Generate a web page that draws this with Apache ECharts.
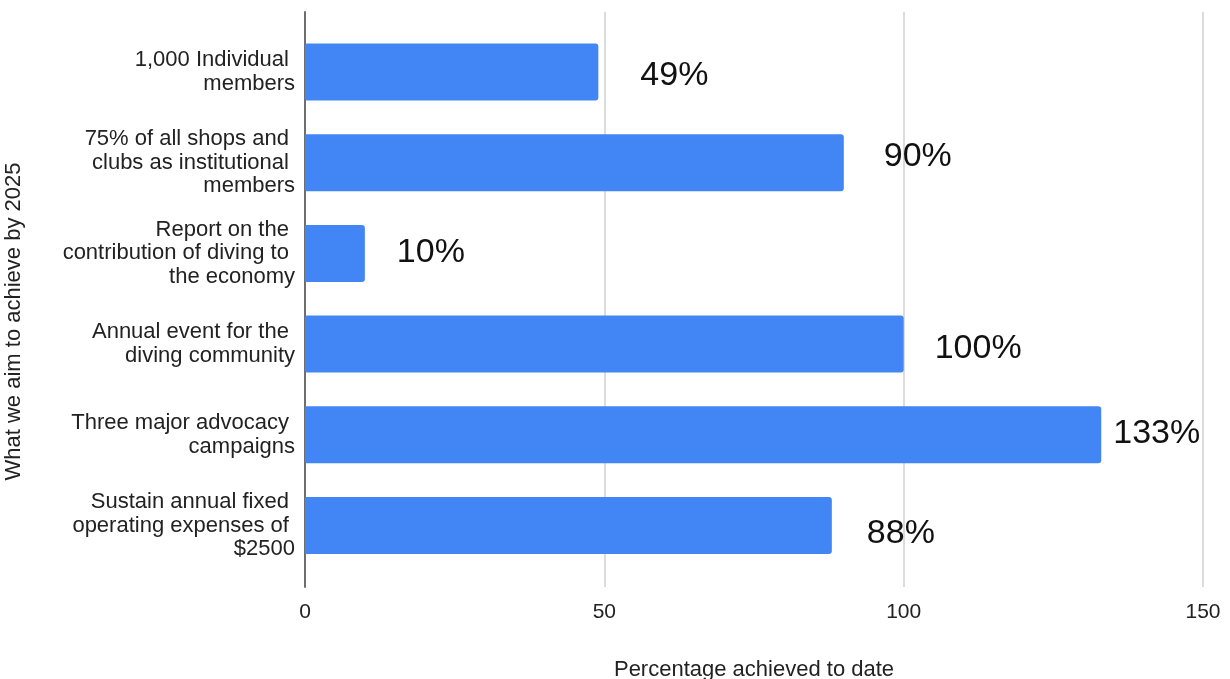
<!DOCTYPE html>
<html>
<head>
<meta charset="utf-8">
<script src="https://cdn.jsdelivr.net/npm/echarts@6/dist/echarts.min.js"></script>
<style>
html,body{margin:0;padding:0;background:#fff;}
#chart{width:1230px;height:679px;}
</style>
</head>
<body>
<div id="chart"></div>
<script>
// ---- data ----
const categories = [
  "1,000 Individual \nmembers",
  "75% of all shops and \nclubs as institutional \nmembers",
  "Report on the \ncontribution of diving to \nthe economy",
  "Annual event for the \ndiving community",
  "Three major advocacy \ncampaigns",
  "Sustain annual fixed \noperating expenses of \n$2500"
];
const achieved = [49, 90, 10, 100, 133, 88];
const xTicks = [0, 50, 100, 150];
const xAxisTitle = "Percentage achieved to date";
const yAxisTitle = "What we aim to achieve by 2025";

// ---- rendering ----
const FONT = "Liberation Sans";
const labelNudge = [[42, 4], [40, -6], [32, -1], [31, 5], [12, -1], [35, 8]];

const chart = echarts.init(document.getElementById('chart'), null, {renderer: 'canvas'});
const option = {
  backgroundColor: '#ffffff',
  animation: false,
  textStyle: {fontFamily: FONT},
  grid: [
    {left: 305, right: 27, top: 12, bottom: 92, containLabel: false, outerBoundsMode: 'none'},
    {left: 305, right: 27, top: 26.7, bottom: 108.2, containLabel: false, outerBoundsMode: 'none'}
  ],
  xAxis: [
    {
      gridIndex: 0, type: 'value', min: xTicks[0], max: xTicks[xTicks.length - 1], interval: 50,
      axisLine: {show: false}, axisTick: {show: false},
      splitLine: {show: true, lineStyle: {color: '#d0d0d0', width: 1.5}},
      axisLabel: {color: '#222', fontSize: 21, margin: 15, fontFamily: FONT},
      name: xAxisTitle, nameLocation: 'middle', nameGap: 72,
      nameTextStyle: {color: '#222', fontSize: 22, fontFamily: FONT}
    },
    {
      gridIndex: 1, type: 'value', min: xTicks[0], max: xTicks[xTicks.length - 1], interval: 50,
      show: false
    }
  ],
  yAxis: [
    {
      gridIndex: 0, type: 'value', min: 0, max: 1,
      axisLine: {show: true, onZero: false, lineStyle: {color: '#6e6e6e', width: 2}},
      axisTick: {show: false}, axisLabel: {show: false}, splitLine: {show: false},
      name: yAxisTitle, nameLocation: 'middle', nameGap: 280, nameRotate: 90,
      nameTextStyle: {color: '#222', fontSize: 22, fontFamily: FONT, padding: [0, 44, 0, 0]}
    },
    {
      gridIndex: 1, type: 'category', data: categories, inverse: true,
      axisLine: {show: false}, axisTick: {show: false}, splitLine: {show: false},
      axisLabel: {color: '#222', fontSize: 22, lineHeight: 23.5, margin: 10, fontFamily: FONT, align: 'right'}
    }
  ],
  series: [{
    type: 'bar',
    xAxisIndex: 1, yAxisIndex: 1,
    barWidth: 57,
    itemStyle: {color: '#4285F4', borderRadius: [0, 3, 3, 0]},
    data: achieved.map((v, i) => ({
      value: v,
      label: {
        show: true, position: 'right',
        distance: labelNudge[i][0], offset: [0, labelNudge[i][1]],
        formatter: '{c}%', color: '#111', fontSize: 34, fontFamily: FONT
      }
    }))
  }]
};
chart.setOption(option);
</script>
</body>
</html>
